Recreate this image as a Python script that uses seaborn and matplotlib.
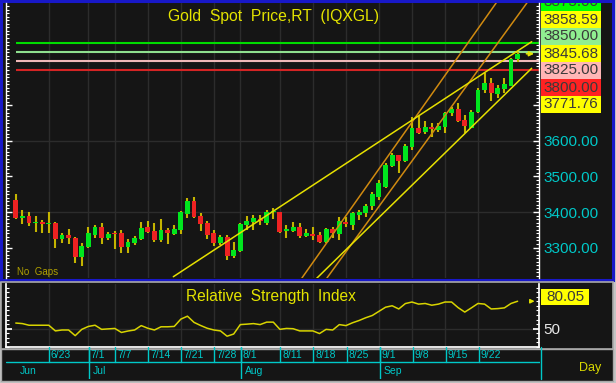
import numpy as np
import pandas as pd
import matplotlib
matplotlib.use("Agg")
import matplotlib.pyplot as plt
from matplotlib.patches import Rectangle
from matplotlib.ticker import MultipleLocator, FixedLocator, FixedFormatter
import seaborn as sns

# ---------------- data ----------------
dates = pd.bdate_range("2025-06-16", "2025-09-30")
opens = [3434, 3384, 3389, 3370, 3373, 3366, 3368, 3323, 3335, 3328,
         3274, 3302, 3335, 3359, 3326, 3340, 3340, 3301, 3312, 3323,
         3359, 3346, 3321, 3349, 3339, 3349, 3394, 3432, 3389, 3368,
         3340, 3312, 3329, 3276, 3290, 3363, 3371, 3380, 3368, 3400,
         3399, 3346, 3347, 3357, 3332, 3338, 3334, 3316, 3351, 3338,
         3373, 3363, 3392, 3397, 3417, 3443, 3471, 3530, 3561, 3545,
         3584, 3637, 3626, 3640, 3631, 3640, 3678, 3689, 3659, 3638,
         3683, 3744, 3763, 3732, 3746, 3756, 3831]
highs = [3452, 3406, 3401, 3389, 3377, 3399, 3373, 3340, 3351, 3330,
         3312, 3359, 3363, 3370, 3345, 3347, 3349, 3323, 3332, 3373,
         3375, 3370, 3379, 3356, 3363, 3403, 3439, 3441, 3397, 3375,
         3349, 3335, 3335, 3316, 3370, 3389, 3392, 3392, 3406, 3410,
         3401, 3363, 3373, 3368, 3351, 3359, 3345, 3354, 3359, 3385,
         3385, 3401, 3406, 3423, 3457, 3490, 3537, 3567, 3561, 3591,
         3668, 3670, 3656, 3652, 3650, 3683, 3697, 3706, 3673, 3687,
         3748, 3791, 3777, 3758, 3777, 3833, 3850]
lows = [3380, 3365, 3361, 3345, 3340, 3340, 3298, 3312, 3309, 3257,
        3248, 3300, 3326, 3310, 3321, 3295, 3285, 3284, 3307, 3321,
        3340, 3316, 3316, 3309, 3335, 3337, 3382, 3382, 3347, 3323,
        3304, 3307, 3265, 3270, 3288, 3349, 3349, 3362, 3363, 3379,
        3342, 3326, 3345, 3326, 3330, 3321, 3312, 3314, 3326, 3321,
        3359, 3349, 3377, 3387, 3406, 3434, 3467, 3526, 3509, 3542,
        3575, 3619, 3620, 3612, 3626, 3623, 3670, 3654, 3623, 3636,
        3680, 3734, 3714, 3720, 3734, 3756, 3823]
closes = [3382, 3390, 3368, 3373, 3366, 3369, 3323, 3335, 3328, 3274,
          3305, 3340, 3359, 3326, 3339, 3337, 3301, 3316, 3326, 3354,
          3343, 3321, 3349, 3340, 3351, 3399, 3432, 3385, 3365, 3335,
          3314, 3329, 3276, 3293, 3366, 3375, 3382, 3375, 3401, 3403,
          3345, 3352, 3359, 3332, 3340, 3332, 3316, 3351, 3340, 3376,
          3366, 3396, 3401, 3417, 3450, 3481, 3532, 3561, 3545, 3586,
          3637, 3623, 3640, 3633, 3642, 3680, 3689, 3657, 3642, 3683,
          3744, 3763, 3734, 3748, 3760, 3831, 3845.68]
rsi = [56.2, 55.6, 53.8, 53.8, 53.8, 53.8, 47.6, 48.6, 48.6, 42.4,
       49.3, 52.5, 53.8, 49.3, 49.8, 50.3, 45.9, 47.5, 48.6, 53.4,
       50.5, 48.6, 52.1, 52.1, 52.5, 60.5, 63.7, 56.9, 53.5, 50.5,
       48.6, 47.6, 41.8, 44.2, 54.5, 55.0, 55.6, 54.5, 57.2, 57.2,
       49.3, 50.3, 50.0, 47.6, 47.6, 47.6, 44.7, 49.3, 48.6, 54.5,
       53.4, 56.5, 59.0, 62.0, 64.5, 69.0, 73.5, 75.1, 71.6, 77.5,
       79.2, 76.9, 77.6, 75.7, 76.9, 79.2, 79.2, 73.0, 68.2, 72.8,
       77.6, 76.9, 71.6, 72.0, 72.8, 77.6, 80.05]

level_values = [3875.00, 3850.00, 3825.00, 3800.00]
level_colors = ["#00dd00", "#8fe08f", "#f0b8b8", "#d42424"]

tag_values = ["3875.00", "3858.59", "3850.00", "3845.68", "3825.00", "3800.00", "3771.76"]
tag_colors = ["#00ff00", "#ffff00", "#90ee90", "#ffff00", "#ffb6b6", "#ff2222", "#ffff00"]

# trendlines: (start index, start price, end index, end price)
trend_x0 = [43.30, 47.09, 23.86, 45.57]
trend_p0 = [3213.2, 3213.2, 3217.7, 3213.2]
trend_x1 = [68.79, 73.33, 78.13, 78.13]
trend_p1 = [3884.5, 3884.5, 3879.7, 3804.8]
trend_colors = ["#d08a10", "#d08a10", "#e6e000", "#e6e000"]
trend_infinite = [True, True, False, False]

price_ticks = [3300, 3400, 3500, 3600, 3700]
price_tick_labels = ["3300.00", "3400.00", "3500.00", "3600.00", ""]
date_ticks = ["6/23", "7/1", "7/7", "7/14", "7/21", "7/28", "8/1",
              "8/11", "8/18", "8/25", "9/1", "9/8", "9/15", "9/22"]
month_ticks = ["Jun", "Jul", "Aug", "Sep"]
month_starts = ["2025-06-16", "2025-07-01", "2025-08-01", "2025-09-01"]
last_price = 3845.68
rsi_last = "80.05"

# ---------------- figure ----------------
sns.set_theme(style="dark")
plt.rcParams["font.family"] = ["Liberation Sans", "DejaVu Sans"]

W, H = 616, 383
fig = plt.figure(figsize=(W / 100, H / 100), dpi=100)
fig.patch.set_facecolor("#c4c4c4")
BG = "#151515"
CYAN = "#00c8c8"
YEL = "#e4e400"


def box(l, t, r, b):
    return [l / W, 1 - b / H, (r - l) / W, (b - t) / H]


def frame(l, t, r, b, face, edge, lw, z=-5):
    fig.add_artist(Rectangle((l / W, 1 - b / H), (r - l) / W, (b - t) / H,
                             transform=fig.transFigure, facecolor=face,
                             edgecolor=edge, linewidth=lw, zorder=z))


frame(1, 1, 613, 280, BG, "#1818c8", 2.2)
frame(1, 282, 613, 349, BG, "#a8a8a8", 1.2)
frame(1, 349, 613, 381, BG, "#a8a8a8", 1.0)

n = len(dates)
idx = np.arange(n)
xlim = (-1.48, 79.24)

# ---------- main price panel ----------
ax = fig.add_axes(box(6, 3, 539, 278))
ax.set_facecolor("none")
ax.set_xlim(*xlim)
ax.set_ylim(3214.1, 3988.7)

tick_idx = [dates.get_loc(pd.Timestamp("2025/" + d)) for d in date_ticks]
for t in tick_idx:
    ax.axvline(t, color="#2c2c2c", lw=1, zorder=0)
for p in [3400, 3600]:
    ax.axhline(p, color="#2c2c2c", lw=1, zorder=0)

o = np.array(opens); c = np.array(closes)
up = c >= o
body_lo = np.minimum(o, c)
body_h = np.maximum(np.abs(c - o), 2.0)
ax.vlines(idx, lows, highs, color="#c4b400", lw=1.5, zorder=2)
ax.bar(idx, body_h, bottom=body_lo, width=0.74,
       color=np.where(up, "#00e61e", "#ee2222"), linewidth=0, zorder=3)

for v, col in zip(level_values, level_colors):
    ax.hlines(v, 0, xlim[1], color=col, lw=1.5, zorder=1)

for x0, p0, x1, p1, col, inf in zip(trend_x0, trend_p0, trend_x1, trend_p1,
                                     trend_colors, trend_infinite):
    if inf:
        ax.axline((x0, p0), (x1, p1), color=col, lw=1.1, zorder=4)
    else:
        ax.plot([x0, x1], [p0, p1], color=col, lw=1.1, zorder=4)

ax.annotate("", xy=(78.9, last_price), xytext=(76.9, last_price),
            arrowprops=dict(arrowstyle="-|>", color=YEL, lw=1.1,
                            mutation_scale=7), zorder=6)

ax.yaxis.set_major_locator(FixedLocator(price_ticks))
ax.yaxis.set_minor_locator(MultipleLocator(10))
ax.yaxis.set_major_formatter(FixedFormatter(price_tick_labels))
ax.tick_params(axis="y", which="both", left=True, right=True, labelleft=False,
               labelright=True, direction="in", colors="white",
               labelcolor=CYAN, labelsize=11, pad=3)
ax.tick_params(axis="y", which="major", length=4, width=1)
ax.tick_params(axis="y", which="minor", length=2, width=0.8)
ax.set_xticks([])
for s in ["top", "bottom"]:
    ax.spines[s].set_visible(False)
for s in ["left", "right"]:
    ax.spines[s].set_color("white")
    ax.spines[s].set_linewidth(1)
ax.grid(False)

fig.text(273 / W, 1 - 16 / H, "Gold  Spot  Price,RT  (IQXGL)", color=YEL,
         fontsize=11.3, ha="center", va="center")
fig.text(17 / W, 1 - 272 / H, "No  Gaps", color="#b0a000", fontsize=7,
         ha="left", va="center")

# value tags on the right
tag_tops = [-6, 11, 28, 45, 62, 79, 96]
for lab, col, t in zip(tag_values, tag_colors, tag_tops):
    t0 = max(t, 3)
    fig.add_artist(Rectangle((541 / W, 1 - (t + 16.5) / H), 60 / W, (t + 16.5 - t0) / H,
                             transform=fig.transFigure, facecolor=col,
                             edgecolor="none", zorder=5))
    txt = fig.text(571 / W, 1 - (t + 8.5) / H, lab, color="#3a3a3a", fontsize=11,
                   ha="center", va="center", zorder=6)
    txt.set_clip_path(Rectangle((541 / W, 1 - 279 / H), 60 / W, 276 / H,
                                transform=fig.transFigure))

# ---------- RSI panel ----------
ax2 = fig.add_axes(box(6, 284, 539, 347))
ax2.set_facecolor("none")
ax2.set_xlim(*xlim)
ax2.set_ylim(30.0, 98.9)
for t in tick_idx:
    ax2.axvline(t, color="#2c2c2c", lw=1, zorder=0)
ax2.axhline(50, color="#2c2c2c", lw=1, zorder=0)
sns.lineplot(x=idx, y=rsi, ax=ax2, color="#d8d400", lw=1.1, zorder=3)
ax2.annotate("", xy=(79.0, rsi[-1]), xytext=(77.6, rsi[-1]),
             arrowprops=dict(arrowstyle="-|>", color=YEL, lw=1.0,
                             mutation_scale=6))
ax2.yaxis.set_major_locator(FixedLocator([50]))
ax2.yaxis.set_minor_locator(MultipleLocator(5))
ax2.tick_params(axis="y", which="both", left=True, right=True, labelleft=False,
                labelright=True, direction="in", colors="white",
                labelcolor="#e8e8e8", labelsize=11, pad=3)
ax2.tick_params(axis="y", which="major", length=4)
ax2.tick_params(axis="y", which="minor", length=2, width=0.8)
ax2.set_xticks([])
ax2.set_xlabel(""); ax2.set_ylabel("")
ax2.spines["top"].set_visible(False)
for s in ["left", "right", "bottom"]:
    ax2.spines[s].set_color("white")
ax2.grid(False)
fig.text(271 / W, 1 - 297 / H, "Relative  Strength  Index", color=YEL,
         fontsize=11.2, ha="center", va="center")
fig.add_artist(Rectangle((541 / W, 1 - 305 / H), 48 / W, 16 / H,
                         transform=fig.transFigure, facecolor="#ffff00",
                         edgecolor="none", zorder=5))
fig.text(565 / W, 1 - 297 / H, rsi_last, color="#3a3a3a", fontsize=11,
         ha="center", va="center", zorder=6)

# ---------- date axis ----------
ax3 = fig.add_axes(box(6, 347, 540, 379))
ax3.set_facecolor("none")
ax3.set_xlim(*xlim)
ax3.set_ylim(0, 1)
ax3.axis("off")
ax3.axhline(0.52, color=CYAN, lw=1)
for t, lab in zip(tick_idx, date_ticks):
    ax3.plot([t, t], [0.52, 1], color=CYAN, lw=1)
    ax3.text(t + 0.3, 0.76, lab, color=CYAN, fontsize=7.5, ha="left", va="center")
month_idx = [dates.get_loc(pd.Timestamp(m)) for m in month_starts]
for k, (t, lab) in enumerate(zip(month_idx, month_ticks)):
    if k > 0:
        ax3.plot([t, t], [0, 1], color=CYAN, lw=1)
    ax3.text(t + 0.6, 0.25, lab, color=CYAN, fontsize=7.5, ha="left", va="center")
ax3.plot([xlim[1] + 0.15] * 2, [0, 1], color=CYAN, lw=1, clip_on=False)
fig.text(590 / W, 1 - 368 / H, "Day", color="#d8d800", fontsize=9,
         ha="center", va="center")

fig.savefig("out.png", dpi=100, facecolor=fig.get_facecolor())
